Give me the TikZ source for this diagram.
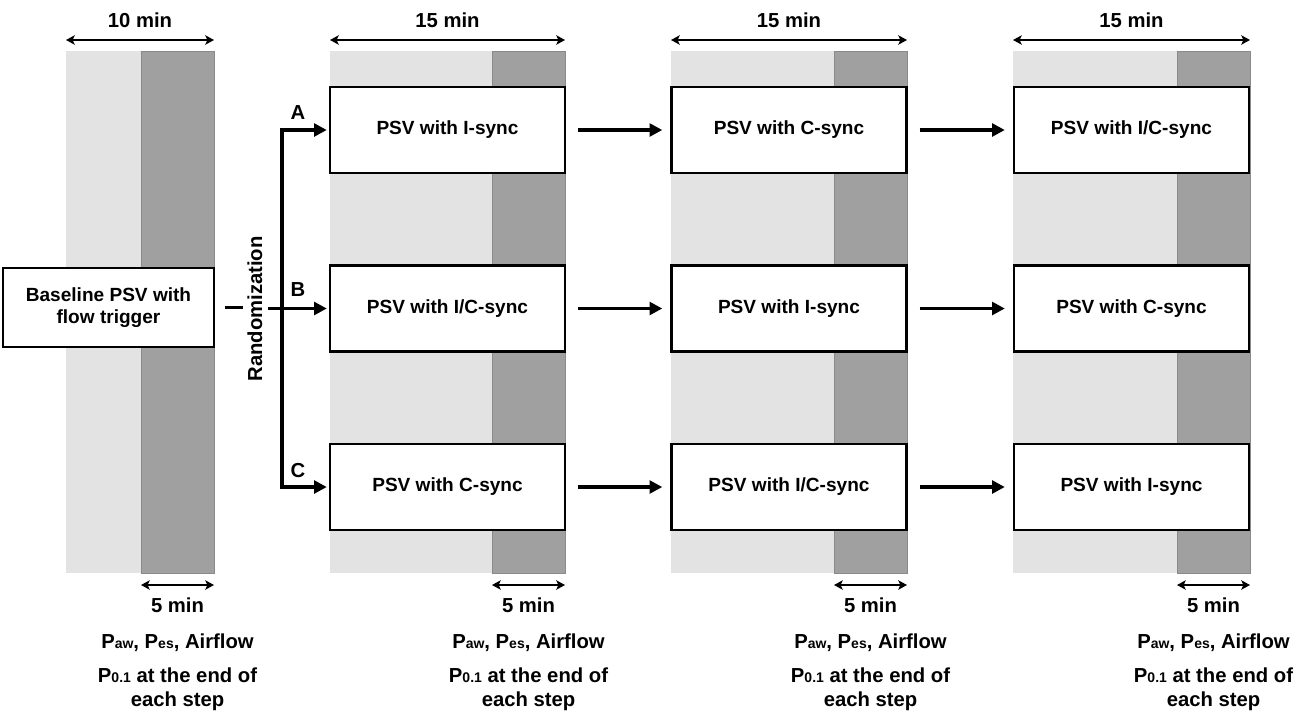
\documentclass[tikz,border=0pt]{standalone}
\usepackage{fontspec}
\setmainfont{Liberation Sans}
\usetikzlibrary{arrows.meta}
\definecolor{barlight}{HTML}{E3E3E3}
\definecolor{bardark}{HTML}{A0A0A0}
\definecolor{barline}{HTML}{8A8A8A}
\newcommand\smallsub[1]{{\fontsize{10.5}{10}\selectfont #1}}
\begin{document}
\begin{tikzpicture}[x=0.75pt,y=-0.75pt,
  every node/.style={font=\bfseries\fontsize{14.3}{16.5}\selectfont, inner sep=0pt},
  stepbox/.style={draw, line width=1.8pt, fill=white, minimum width=176.25pt, minimum height=64.5pt, align=center},
  basebox/.style={draw, line width=1.8pt, fill=white, minimum width=158.25pt, minimum height=59.25pt, align=center},
  flow/.style={line width=2.7pt, -{Triangle[length=9.5pt,width=9.5pt]}},
  span/.style={line width=2.2pt, {Stealth[length=6.5pt,width=7pt,inset=1.5pt]}-{Stealth[length=6.5pt,width=7pt,inset=1.5pt]}},
  biglabel/.style={font=\bfseries\fontsize{15.2}{18}\selectfont, align=center},
]
\useasboundingbox (0,0) rectangle (1308,711);
\fill[white] (0,0) rectangle (1308,711);

% time bars, duration arrows and measurement labels
\foreach \i/\a/\b/\c/\m in {1/66/141/214/10, 2/330/492/565/15, 3/671/834/907/15, 4/1013/1177/1250/15} {
  \fill[barlight] (\a,51) rectangle (\b,573);
  \filldraw[fill=bardark, draw=barline, line width=0.5pt] (\b,51) rectangle (\c,573);
  \coordinate (tl\i) at (\a,40);
  \coordinate (tr\i) at (\c,40);
  \coordinate (fl\i) at (\b,585);
  \coordinate (fr\i) at (\c,585);
  \draw[span] (tl\i) -- (tr\i);
  \draw[span] (fl\i) -- (fr\i);
  \node[biglabel] (top\i) at ({(\a+\c)/2},20) {\m\ min};
  \node[biglabel] (five\i) at ({(\b+\c)/2},605) {5 min};
  \node[biglabel] (meas\i) at ({(\b+\c)/2},643) {P\smallsub{aw}, P\smallsub{es}, Airflow};
  \node[biglabel] (pzero\i) at ({(\b+\c)/2},689) {P\smallsub{0.1} at the end of\\each step};
}

% boxes
\node[basebox] (base) at (108.5,307.5) {Baseline PSV with\\flow trigger};
\node[stepbox] (A1) at (447.5,130) {PSV with I-sync};
\node[stepbox] (A2) at (789,130) {PSV with C-sync};
\node[stepbox] (A3) at (1131.5,130) {PSV with I/C-sync};
\node[stepbox] (B1) at (447.5,308.5) {PSV with I/C-sync};
\node[stepbox] (B2) at (789,308.5) {PSV with I-sync};
\node[stepbox] (B3) at (1131.5,308.5) {PSV with C-sync};
\node[stepbox] (C1) at (447.5,487) {PSV with C-sync};
\node[stepbox] (C2) at (789,487) {PSV with I/C-sync};
\node[stepbox] (C3) at (1131.5,487) {PSV with I-sync};

% sequence arrows
\foreach \r in {A,B,C}{
  \draw[flow, shorten <=9pt, shorten >=6pt] (\r1) -- (\r2);
  \draw[flow, shorten <=9pt, shorten >=6pt] (\r2) -- (\r3);
}

% randomization
\coordinate (split) at (282,308.5);
\draw[line width=2.7pt] ([xshift=7.5pt]base.east) -- ([xshift=21pt]base.east);
\draw[flow, shorten >=1.5pt] ([xshift=-10.5pt]split) -- (B1.west);
\draw[flow, shorten >=1.5pt] (split |- C1.west) |- (A1.west);
\draw[flow, shorten >=1.5pt] (split |- A1.west) |- (C1.west);
\node[rotate=90, biglabel] (rlab) at (255,309) {Randomization};
\node[biglabel] (lA) at (298,113) {A};
\node[biglabel] (lB) at (298,290) {B};
\node[biglabel] (lC) at (298,471) {C};
\end{tikzpicture}
\end{document}
